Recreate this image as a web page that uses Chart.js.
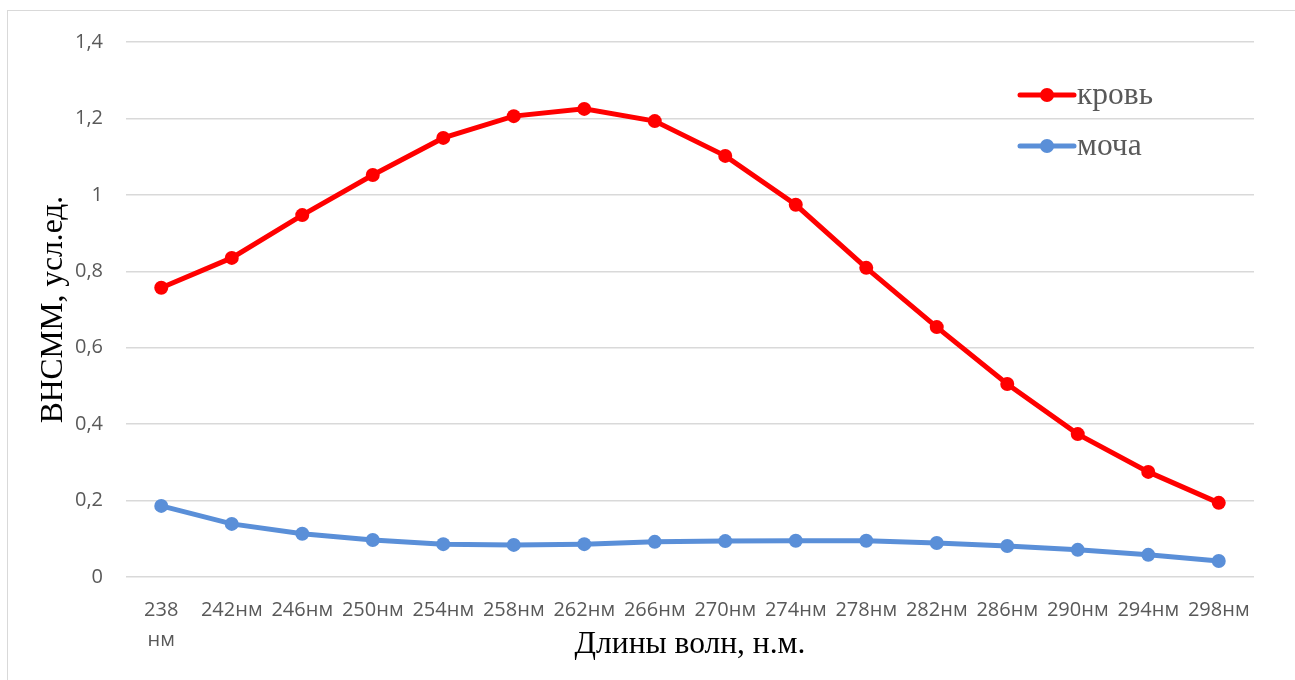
<!DOCTYPE html>
<html>
<head>
<meta charset="utf-8">
<script src="https://cdn.jsdelivr.net/npm/chart.js@4.4.1/dist/chart.umd.min.js"></script>
<style>
  html, body { margin: 0; padding: 0; background: #ffffff; }
  #wrap { position: relative; width: 1295px; height: 680px; overflow: hidden; }
  #frame { position: absolute; left: 7px; top: 10px; width: 1400px; height: 800px; border-left: 1px solid #d9d9d9; border-top: 1px solid #d9d9d9; }
  canvas { position: absolute; left: 0; top: 0; }
</style>
</head>
<body>
<div id="wrap">
  <div id="frame"></div>
  <canvas id="c" width="1295" height="680"></canvas>
</div>
<script>
// ---- data ----
const categories = [["238", "нм"], "242нм", "246нм", "250нм", "254нм", "258нм", "262нм", "266нм",
  "270нм", "274нм", "278нм", "282нм", "286нм", "290нм", "294нм", "298нм"];
const seriesNames = ["кровь", "моча"];
const bloodValues = [0.757, 0.835, 0.947, 1.052, 1.149, 1.206, 1.225, 1.193,
  1.102, 0.974, 0.809, 0.654, 0.505, 0.374, 0.275, 0.194];
const urineValues = [0.186, 0.139, 0.113, 0.097, 0.086, 0.084, 0.086, 0.092,
  0.094, 0.095, 0.095, 0.089, 0.081, 0.071, 0.058, 0.042];
const yTicks = [0, 0.2, 0.4, 0.6, 0.8, 1, 1.2, 1.4];
const xTitle = "Длины волн, н.м.";
const yTitle = "ВНСММ, усл.ед.";

const RED = "#ff0000";
const BLUE = "#5a8fd8";
const TICK_COLOR = "#595959";
const GRID = "#d9d9d9";
const SERIF = "'Liberation Serif', 'Times New Roman', serif";

const insideLegend = {
  id: "insideLegend",
  afterDatasetsDraw(chart) {
    const ctx = chart.ctx;
    const area = chart.chartArea;
    const x0 = area.right - 234;
    const yStart = area.top + 53;
    const gap = 51;
    ctx.save();
    chart.data.datasets.forEach((ds, i) => {
      const y = yStart + i * gap;
      ctx.strokeStyle = ds.borderColor;
      ctx.lineWidth = 5;
      ctx.lineCap = "round";
      ctx.beginPath();
      ctx.moveTo(x0, y);
      ctx.lineTo(x0 + 54, y);
      ctx.stroke();
      ctx.fillStyle = ds.borderColor;
      ctx.beginPath();
      ctx.arc(x0 + 27, y, 7, 0, Math.PI * 2);
      ctx.fill();
      ctx.fillStyle = TICK_COLOR;
      ctx.font = "31.5px " + SERIF;
      ctx.textBaseline = "middle";
      ctx.textAlign = "left";
      ctx.fillText(ds.label, x0 + 57, y + 1);
    });
    ctx.restore();
  }
};

new Chart(document.getElementById("c"), {
  type: "line",
  data: {
    labels: categories,
    datasets: [
      { label: seriesNames[0], data: bloodValues, borderColor: RED, backgroundColor: RED,
        borderWidth: 5, pointRadius: 7, pointHoverRadius: 7, pointBackgroundColor: RED,
        pointBorderWidth: 0, tension: 0 },
      { label: seriesNames[1], data: urineValues, borderColor: BLUE, backgroundColor: BLUE,
        borderWidth: 5, pointRadius: 7, pointHoverRadius: 7, pointBackgroundColor: BLUE,
        pointBorderWidth: 0, tension: 0 }
    ]
  },
  options: {
    responsive: false,
    animation: false,
    locale: "ru-RU",
    layout: { padding: { left: 0, top: 42, right: 41, bottom: 0 } },
    plugins: { legend: { display: false }, tooltip: { enabled: false } },
    scales: {
      x: {
        offset: true,
        grid: { display: false, drawTicks: false },
        border: { display: false },
        ticks: { color: TICK_COLOR, font: { family: "'Open Sans', sans-serif", size: 20, lineHeight: 1.5 },
          maxRotation: 0, minRotation: 0, autoSkip: false, padding: 18 },
        title: { display: true, text: xTitle, color: "#000000",
          font: { family: SERIF, size: 31.5 },
          padding: { top: 0, bottom: 16 } },
        afterFit(scale) { scale.height = 103; }
      },
      y: {
        min: 0, max: 1.4,
        afterBuildTicks(scale) { scale.ticks = yTicks.map(v => ({ value: v })); },
        grid: { color: GRID, lineWidth: 1.5, drawTicks: false },
        border: { display: false },
        ticks: { color: TICK_COLOR, font: { family: "'Open Sans', sans-serif", size: 20 }, padding: 23,
          callback: (v) => Number(v).toLocaleString("ru-RU") },
        title: { display: true, text: yTitle, color: "#000000",
          font: { family: SERIF, size: 31.5 },
          padding: { top: 35, bottom: 0 } },
        afterFit(scale) { scale.width = 126; }
      }
    }
  },
  plugins: [insideLegend]
});
</script>
</body>
</html>
